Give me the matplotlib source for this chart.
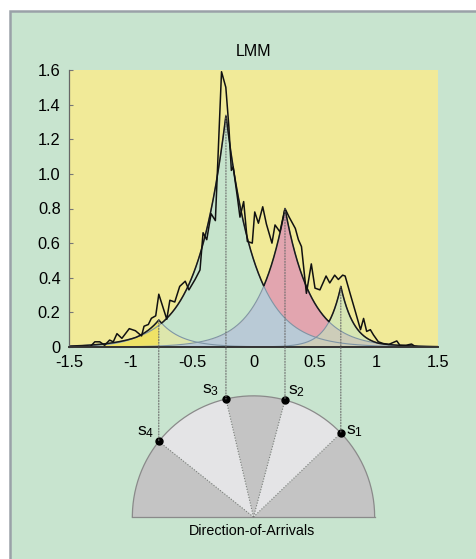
import numpy as np
import matplotlib.pyplot as plt
from matplotlib.patches import Rectangle, Wedge, ConnectionPatch

plt.rcParams["font.family"] = ["Liberation Sans", "DejaVu Sans"]

# noisy LMM spectrum
raw_x = [-1.50, -1.33, -1.29, -1.25, -1.21, -1.17, -1.14, -1.11, -1.07, -1.01,
         -0.96, -0.91, -0.89, -0.855, -0.83, -0.795, -0.77, -0.705, -0.68, -0.64,
         -0.60, -0.555, -0.525, -0.475, -0.435, -0.41, -0.38, -0.345, -0.31, -0.26,
         -0.225, -0.20, -0.18, -0.165, -0.13, -0.11, -0.08, -0.05, -0.01, 0.01,
         0.04, 0.075, 0.105, 0.15, 0.175, 0.215, 0.256, 0.29, 0.34, 0.365,
         0.39, 0.43, 0.47, 0.50, 0.54, 0.59, 0.62, 0.66, 0.69, 0.725,
         0.745, 0.785, 0.83, 0.87, 0.895, 0.92, 0.95, 0.975, 1.015, 1.055,
         1.10, 1.165, 1.19, 1.24, 1.285, 1.31, 1.35, 1.50]
raw_y = [0.0, 0.0, 0.03, 0.03, 0.01, 0.04, 0.03, 0.077, 0.05, 0.106,
         0.094, 0.064, 0.12, 0.13, 0.166, 0.18, 0.305, 0.16, 0.27, 0.26,
         0.35, 0.38, 0.33, 0.39, 0.445, 0.66, 0.62, 0.77, 0.73, 1.59,
         1.50, 1.27, 1.02, 1.04, 0.86, 0.75, 0.84, 0.61, 0.60, 0.78,
         0.715, 0.81, 0.71, 0.60, 0.705, 0.665, 0.80, 0.75, 0.685, 0.62,
         0.58, 0.31, 0.48, 0.34, 0.33, 0.41, 0.37, 0.415, 0.39, 0.415,
         0.41, 0.31, 0.20, 0.10, 0.165, 0.09, 0.10, 0.07, 0.03, 0.02,
         0.015, 0.035, 0.01, 0.01, 0.017, 0.005, 0.0, 0.0]

# Laplacian components s1..s4
names = ["s_1", "s_2", "s_3", "s_4"]
centers = [0.71, 0.256, -0.224, -0.77]
peaks = [0.35, 0.80, 1.34, 0.156]
widths = [0.11, 0.21, 0.23, 0.18]
fills = ["#d7e6b4", "#e2a5af", "#c6e4cc", "#efe266"]

xticks = [-1.5, -1, -0.5, 0, 0.5, 1, 1.5]
xtick_labels = ["-1.5", "-1", "-0.5", "0", "0.5", "1", "1.5"]
yticks = [0, 0.2, 0.4, 0.6, 0.8, 1.0, 1.2, 1.4, 1.6]
ytick_labels = ["0", "0.2", "0.4", "0.6", "0.8", "1.0", "1.2", "1.4", "1.6"]

W, H = 477, 559
fig = plt.figure(figsize=(W / 100, H / 100), dpi=100, facecolor="white")
fig.patches.append(Rectangle((10.5 / W, -0.05), 1.1, (H - 10.5) / H + 0.05,
                             transform=fig.transFigure, facecolor="#c8e4cf",
                             edgecolor="#9aa1a8", lw=1.8, zorder=-1))

ax = fig.add_axes([69 / W, 1 - 347 / H, 369 / W, 277 / H])
ax.set_facecolor("#f1ea98")

x = np.linspace(-1.5, 1.5, 1201)
comps = [p * np.exp(-np.abs(x - m) / w) for m, p, w in zip(centers, peaks, widths)]
c1, c2, c3, c4 = comps

for i in [2, 1, 0]:
    ax.fill_between(x, 0, comps[i], color=fills[i], lw=0)
# s4 sits on top of the s3 tail left of its peak
left4 = x <= centers[3]
ax.fill_between(x, 0, c4, where=left4, color=fills[3], lw=0)
ax.fill_between(x, 0, np.minimum(c3, c4), where=~left4, color="#dde6ac", lw=0)
ax.fill_between(x, 0, np.minimum(c2, c3), color="#b9cad6", lw=0)
ax.fill_between(x, 0, np.minimum(c1, c2), color="#cdcdb9", lw=0)

for c in comps:
    ax.plot(x, c, color="#7f95a5", lw=0.8)
ax.plot(x, np.max(comps, axis=0), color="#1a1a1a", lw=1.1)
ax.plot(raw_x, raw_y, color="#111111", lw=1.1)

ax.set_xlim(-1.5, 1.5)
ax.set_ylim(0, 1.6)
ax.set_xticks(xticks)
ax.set_xticklabels(xtick_labels)
ax.set_yticks(yticks)
ax.set_yticklabels(ytick_labels)
ax.tick_params(axis="y", direction="in", length=3, color="#777777", labelsize=11.8, pad=6)
ax.tick_params(axis="x", length=0, labelsize=11.8, pad=6)
for s in ["top", "right"]:
    ax.spines[s].set_visible(False)
ax.spines["left"].set_color("#666666")
ax.spines["left"].set_linewidth(0.9)
ax.spines["bottom"].set_color("#333333")
ax.spines["bottom"].set_linewidth(1.4)

fig.text(253.4 / W, 1 - 52 / H, "LMM", ha="center", va="center", fontsize=11.5)

# half-circle of arrival directions
ax2 = fig.add_axes([69 / W, 1 - 540 / H, 369 / W, 160 / H])
ax2.set_xlim(-1.5, 1.5)
ax2.set_ylim(-0.187, -0.187 + 160 / 123)
ax2.axis("off")

R = 0.985
angles = [np.degrees(np.arccos(m / R)) for m in centers]
edges = [0] + angles + [180]
for k in range(5):
    col = "#c4c4c4" if k % 2 == 0 else "#e4e4e6"
    ax2.add_patch(Wedge((0, 0), R, edges[k], edges[k + 1], facecolor=col, edgecolor="none"))
t = np.linspace(0, np.pi, 200)
ax2.plot(R * np.cos(t), R * np.sin(t), color="#8a8a8a", lw=0.9)
ax2.plot([-R, R], [0, 0], color="#8a8a8a", lw=0.9)

label_pos = [(0.82, 0.70), (0.352, 1.027), (-0.353, 1.033), (-0.881, 0.693)]
for m, p, name, (lx, ly) in zip(centers, peaks, names, label_pos):
    yk = np.sqrt(R ** 2 - m ** 2)
    ax2.plot([0, m], [0, yk], color="#7a7a7a", lw=0.8, linestyle=(0, (1, 1.5)))
    ax2.plot(m, yk, "o", color="black", ms=5, zorder=5)
    ax2.text(lx, ly, r"$\mathregular{" + name + "}$", ha="center", va="center", fontsize=12.5)
    con = ConnectionPatch(xyA=(m, p), coordsA=ax.transData, xyB=(m, yk), coordsB=ax2.transData,
                          color="#6a6a6a", lw=0.8, linestyle=(0, (1, 1.5)))
    fig.add_artist(con)

ax2.text(-0.01, -0.11, "Direction-of-Arrivals", ha="center", va="center", fontsize=10.3)

fig.savefig("out.png", dpi=100)
